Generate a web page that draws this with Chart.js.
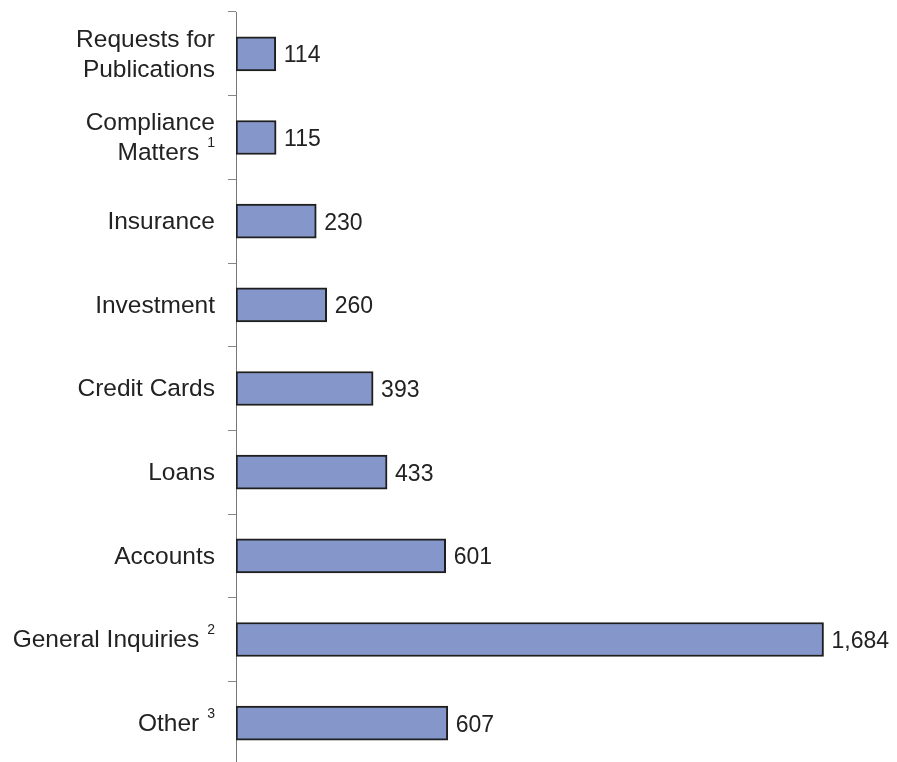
<!DOCTYPE html>
<html>
<head>
<meta charset="utf-8">
<script src="https://cdn.jsdelivr.net/npm/chart.js@4/dist/chart.umd.min.js"></script>
<style>
  html, body { margin: 0; padding: 0; background: #fff; overflow: hidden; }
  #wrap { width: 897px; height: 770px; position: relative; }
</style>
</head>
<body>
<div id="wrap"><canvas id="c" width="897" height="770"></canvas></div>
<script>
const categories = [
  ["Requests for", "Publications"],
  ["Compliance", "Matters"],
  "Insurance",
  "Investment",
  "Credit Cards",
  "Loans",
  "Accounts",
  "General Inquiries",
  "Other"
];
const footnotes = ["", "1", "", "", "", "", "", "2", "3"];
const values = [114, 115, 230, 260, 393, 433, 601, 1684, 607];

const FONT = '"Liberation Sans", Arial, sans-serif';
const TEXT = '#222222';

const labelPlugin = {
  id: 'labelPlugin',
  afterDatasetsDraw(chart) {
    const ctx = chart.ctx;
    const ys = chart.scales.y;
    const xs = chart.scales.x;
    const right = 215;
    ctx.save();
    ctx.fillStyle = TEXT;
    ctx.textBaseline = 'middle';
    categories.forEach((cat, i) => {
      const yc = ys.getPixelForValue(i) + 1;
      const lines = Array.isArray(cat) ? cat : [cat];
      const sup = footnotes[i];
      const gap = 30;
      lines.forEach((ln, k) => {
        const y = yc + (k - (lines.length - 1) / 2) * gap;
        let x = right;
        if (k === lines.length - 1 && sup) {
          ctx.font = '14px ' + FONT;
          ctx.textAlign = 'right';
          ctx.fillText(sup, x, y - 10);
          x -= ctx.measureText(sup).width + 8;
        }
        ctx.font = '24.5px ' + FONT;
        ctx.textAlign = 'right';
        ctx.fillText(ln, x, y);
      });
      // value label
      ctx.font = '23px ' + FONT;
      ctx.textAlign = 'left';
      const vx = xs.getPixelForValue(values[i]) + 8;
      ctx.fillText(values[i].toLocaleString('en-US'), vx, yc + 1);
    });
    ctx.restore();
  }
};

new Chart(document.getElementById('c'), {
  type: 'bar',
  data: {
    labels: categories,
    datasets: [{
      data: values,
      backgroundColor: '#8496CA',
      borderColor: '#1e1e1e',
      borderWidth: 2,
      borderSkipped: false,
      barThickness: 34
    }]
  },
  options: {
    indexAxis: 'y',
    responsive: false,
    animation: false,
    devicePixelRatio: 1,
    layout: { padding: { top: 12, right: 33, bottom: 5, left: 0 } },
    plugins: { legend: { display: false }, tooltip: { enabled: false } },
    scales: {
      x: {
        display: false,
        min: 0,
        max: 1800
      },
      y: {
        offset: true,
        ticks: { display: false },
        grid: {
          display: true,
          drawOnChartArea: false,
          drawTicks: true,
          tickLength: 8,
          color: '#888888',
          offset: true
        },
        border: { display: true, color: '#777777', width: 1 },
        afterFit(scale) { scale.width = 236; }
      }
    }
  },
  plugins: [labelPlugin]
});
</script>
</body>
</html>
